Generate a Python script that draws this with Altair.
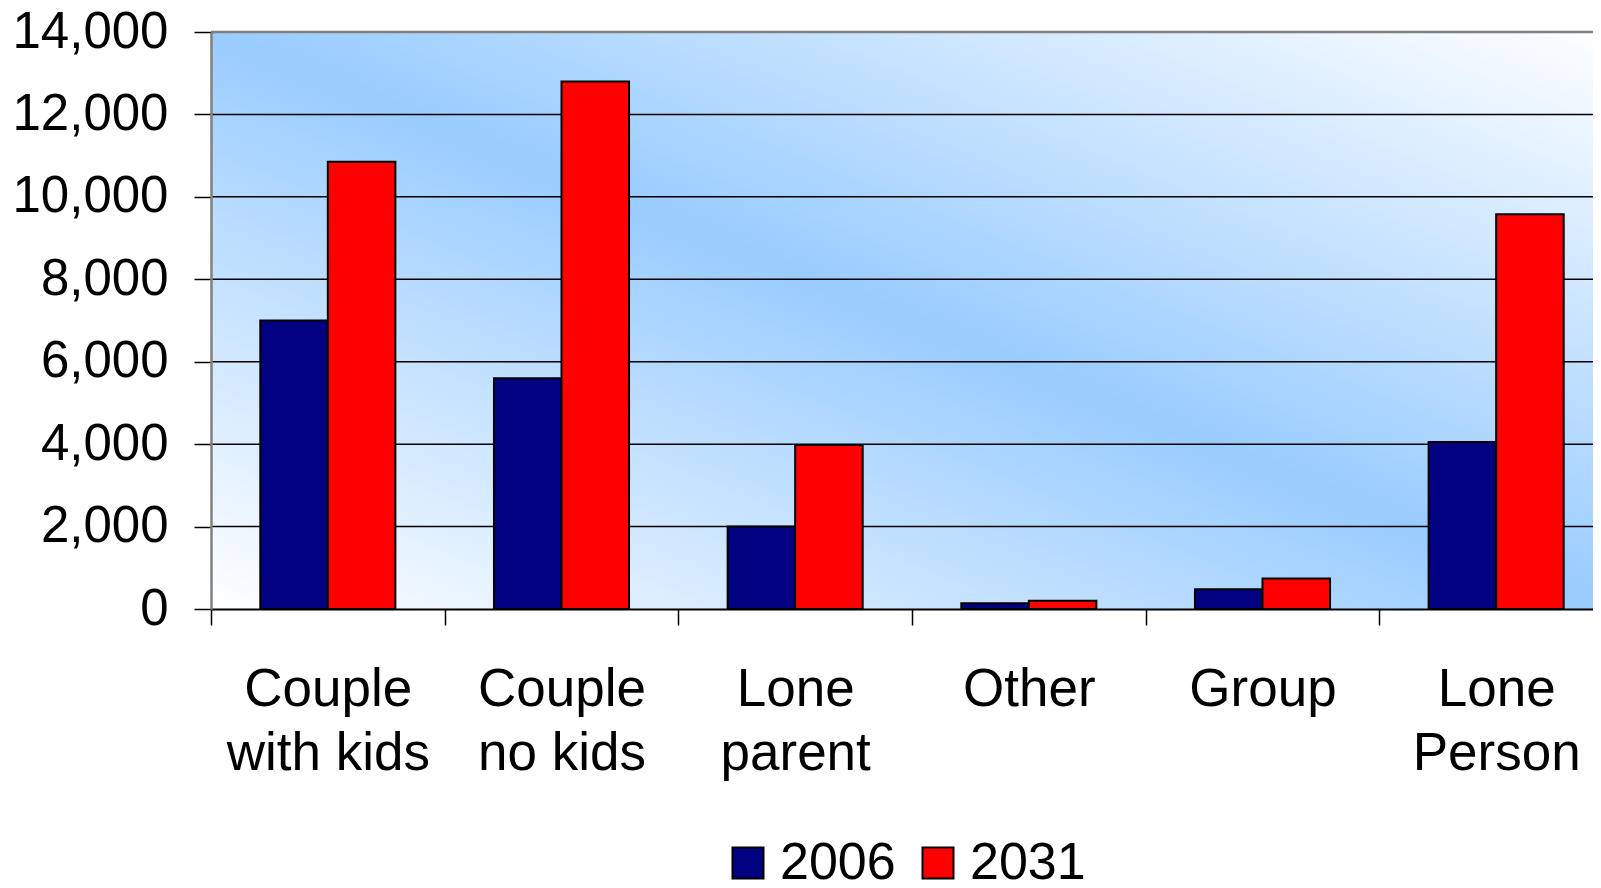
import altair as alt
import pandas as pd

categories = ["Couple with kids", "Couple no kids", "Lone parent", "Other", "Group", "Lone Person"]
values_2006 = [7000, 5600, 2000, 140, 480, 4050]
values_2031 = [10850, 12800, 3980, 200, 740, 9580]
years = ["2006", "2031"]
grid_values = [2000, 4000, 6000, 8000, 10000, 12000]
top_value = [14000]

rows = []
for c, a, b in zip(categories, values_2006, values_2031):
    rows.append({"category": c, "year": "2006", "value": a})
    rows.append({"category": c, "year": "2031", "value": b})
df = pd.DataFrame(rows)

W, H = 1382, 577
XR = 1402
FONT = "Liberation Sans"
FSX = 53
FSY = 51

yscale = alt.Scale(domain=[0, 14000], nice=False)

bg = alt.Chart(pd.DataFrame({"a": [0]})).mark_rect(
    color=alt.LinearGradient(
        gradient="linear",
        x1=0, y1=1, x2=1, y2=0,
        stops=[
            alt.GradientStop(color="#ffffff", offset=0),
            alt.GradientStop(color="#99ccff", offset=0.5),
            alt.GradientStop(color="#ffffff", offset=1),
        ],
    )
).encode(x=alt.value(0), x2=alt.value(XR), y=alt.value(0), y2=alt.value(H))

grid = alt.Chart(pd.DataFrame({"v": grid_values})).mark_rule(
    color="#000000", strokeWidth=1.5
).encode(y=alt.Y("v:Q", scale=yscale))

top = alt.Chart(pd.DataFrame({"v": top_value})).mark_rule(
    color="#808080", strokeWidth=2.5
).encode(y=alt.Y("v:Q", scale=yscale))

label_expr = (
    "indexof(datum.label, ' ') > 0 ? "
    "[slice(datum.label, 0, indexof(datum.label, ' ')), slice(datum.label, indexof(datum.label, ' ') + 1)]"
    " : datum.label"
)

bars = alt.Chart(df).mark_bar(stroke="#000000", strokeWidth=2).encode(
    x=alt.X(
        "category:N",
        sort=categories,
        scale=alt.Scale(paddingInner=0, paddingOuter=0, range=[0, XR]),
        axis=alt.Axis(
            title=None,
            labelExpr=label_expr,
            labelFont=FONT,
            labelFontSize=FSX,
            labelColor="#000000",
            labelLineHeight=64,
            labelPadding=38,
            labelAngle=0,
            labelLimit=0,
            tickBand="extent",
            tickSize=16,
            tickColor="#000000",
            tickWidth=1.5,
            domainColor="#000000",
            domainWidth=2,
            grid=False,
            zindex=1,
        ),
    ),
    xOffset=alt.XOffset(
        "year:N", sort=years, scale=alt.Scale(paddingInner=0, paddingOuter=0.73)
    ),
    y=alt.Y(
        "value:Q",
        scale=yscale,
        axis=alt.Axis(
            title=None,
            values=[0, 2000, 4000, 6000, 8000, 10000, 12000, 14000],
            format=",d",
            labelFont=FONT,
            labelFontSize=FSY,
            labelColor="#000000",
            labelPadding=26,
            tickSize=17,
            tickColor="#000000",
            tickWidth=1.5,
            domainColor="#808080",
            domainWidth=2.5,
            grid=False,
            zindex=1,
        ),
    ),
    color=alt.Color(
        "year:N",
        sort=years,
        scale=alt.Scale(domain=years, range=["#000080", "#ff0000"]),
        legend=alt.Legend(
            title=None,
            orient="none",
            legendX=511,
            legendY=805,
            direction="horizontal",
            symbolType="square",
            symbolSize=961,
            symbolStrokeColor="#000000",
            symbolStrokeWidth=2,
            labelFont=FONT,
            labelFontSize=52,
            labelColor="#000000",
            labelOffset=6,
            columnPadding=16,
            padding=0,
        ),
    ),
)

chart = alt.layer(bg, grid, top, bars).properties(
    width=W,
    height=H,
    autosize=alt.AutoSizeParams(type="none"),
    padding={"left": 203, "top": 24, "right": 0, "bottom": 271},
    background="#ffffff",
).configure_view(stroke=None)

chart.save("out.html", embed_options={"renderer": "svg", "actions": False})
